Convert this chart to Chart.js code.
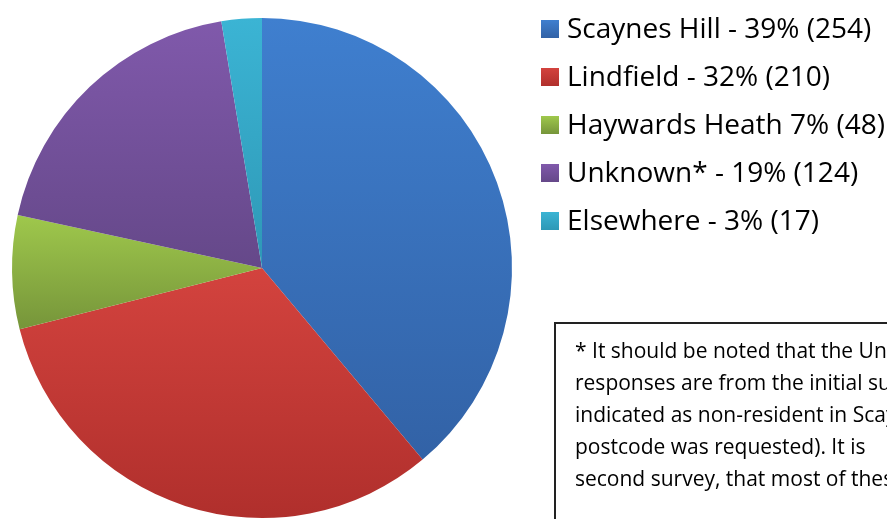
<!DOCTYPE html>
<html>
<head>
<meta charset="utf-8">
<script src="https://cdn.jsdelivr.net/npm/chart.js@4"></script>
<style>
  html, body { margin: 0; padding: 0; background: #fff; overflow: hidden; }
  canvas { display: block; }
</style>
</head>
<body>
<canvas id="chart" width="887" height="519"></canvas>
<script>
const categories = ['Scaynes Hill', 'Lindfield', 'Haywards Heath', 'Unknown*', 'Elsewhere'];
const responses = [254, 210, 48, 124, 17];
const legendLabels = [
    'Scaynes Hill - 39% (254)',
    'Lindfield - 32% (210)',
    'Haywards Heath 7% (48)',
    'Unknown* - 19% (124)',
    'Elsewhere - 3% (17)'
];
const noteLines = [
    '* It should be noted that the Unknown*',
    'responses are from the initial survey',
    'indicated as non-resident in Scaynes',
    'postcode was requested). It is',
    'second survey, that most of these'
];

// light -> dark shade for each slice
const sliceShades = [
    ['#3f7fcf', '#3262a6'],
    ['#d3433e', '#b02f2c'],
    ['#9fc84c', '#76953a'],
    ['#8059ab', '#654889'],
    ['#3bb4d4', '#2e98b6']
];

const FONT = '"Open Sans", "DejaVu Sans", sans-serif';

// vertical gradient spanning the slice's own height
const sliceGradient = (ctx) => {
    const chart = ctx.chart;
    const i = ctx.dataIndex;
    const area = chart.chartArea;
    if (!area) return sliceShades[i][0];
    const cx = (area.left + area.right) / 2;
    const cy = (area.top + area.bottom) / 2;
    const r = Math.min(area.right - area.left, area.bottom - area.top) / 2;
    const total = responses.reduce((a, b) => a + b, 0);
    const before = responses.slice(0, i).reduce((a, b) => a + b, 0);
    const a0 = -Math.PI / 2 + before / total * Math.PI * 2;
    const a1 = a0 + responses[i] / total * Math.PI * 2;
    let ys = [cy, cy + r * Math.sin(a0), cy + r * Math.sin(a1)];
    [-Math.PI / 2, Math.PI / 2, Math.PI * 1.5].forEach(a => {
        if (a >= a0 && a <= a1) ys.push(cy + r * Math.sin(a));
    });
    const top = Math.min(...ys);
    const bottom = Math.max(...ys);
    const g = chart.ctx.createLinearGradient(0, top, 0, bottom);
    g.addColorStop(0, sliceShades[i][0]);
    g.addColorStop(1, sliceShades[i][1]);
    return g;
};

const sideLegend = {
    id: 'sideLegend',
    afterDraw(chart) {
        const c = chart.ctx;
        c.save();
        c.font = '28px ' + FONT;
        c.textBaseline = 'middle';
        c.fillStyle = '#000';
        legendLabels.forEach((label, i) => {
            const y = 29 + i * 48;
            const g = c.createLinearGradient(0, y - 9, 0, y + 9);
            g.addColorStop(0, sliceShades[i][0]);
            g.addColorStop(1, sliceShades[i][1]);
            c.fillStyle = g;
            c.fillRect(541, y - 9, 18, 18);
            c.fillStyle = '#000';
            c.fillText(label, 567, y + 1);
        });

        // footnote box, runs off the right edge
        c.strokeStyle = '#222';
        c.lineWidth = 2;
        c.strokeRect(555, 323, 400, 260);
        c.font = '21px ' + FONT;
        noteLines.forEach((line, i) => {
            c.fillText(line, 575, 352 + i * 32);
        });
        c.restore();
    }
};

new Chart(document.getElementById('chart'), {
    type: 'pie',
    data: {
        labels: categories,
        datasets: [{
            data: responses,
            backgroundColor: sliceGradient,
            borderWidth: 0
        }]
    },
    options: {
        responsive: false,
        animation: false,
        layout: {
            padding: { left: 12, top: 18, right: 375, bottom: 1 }
        },
        plugins: {
            legend: { display: false },
            tooltip: { enabled: false }
        }
    },
    plugins: [sideLegend]
});
</script>
</body>
</html>
